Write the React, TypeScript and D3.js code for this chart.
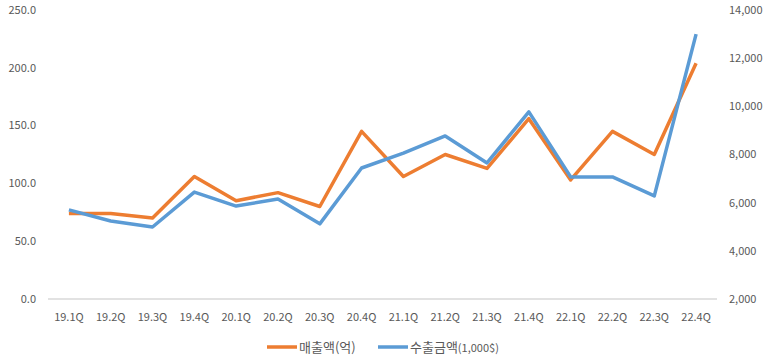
import React from 'react'
import * as d3 from "d3";

const quarters = ["19.1Q", "19.2Q", "19.3Q", "19.4Q", "20.1Q", "20.2Q", "20.3Q", "20.4Q",
  "21.1Q", "21.2Q", "21.3Q", "21.4Q", "22.1Q", "22.2Q", "22.3Q", "22.4Q"]

const sales = [74, 74, 70, 106, 85, 92, 80, 145, 106, 125, 113, 156, 103, 145, 125, 204]

const exports_ = [5700, 5240, 4990, 6440, 5860, 6150, 5120, 7440, 8060, 8770, 7650, 9770, 7070, 7070, 6280, 13000]

const leftTicks = [0, 50, 100, 150, 200, 250]
const rightTicks = [2000, 4000, 6000, 8000, 10000, 12000, 14000]

const salesName = "매출액(억)"
const exportName = "수출금액"
const exportUnit = "(1,000$)"

function drawChart(svgRef: React.RefObject<SVGSVGElement>) {
  const width = 773
  const height = 364
  const margin = { top: 10, right: 56, bottom: 65, left: 48 }

  const svg = d3.select(svgRef.current)
    .attr("width", width)
    .attr("height", height)
    .style("position", "absolute")
    .style("left", 0)
    .style("top", 0)
    .attr("font-family", "'Noto Sans CJK KR', 'Noto Sans', sans-serif")

  svg.selectAll("*").remove()

  const x = d3.scaleBand()
    .domain(quarters)
    .range([margin.left, width - margin.right])

  const yL = d3.scaleLinear().domain([0, 250]).range([height - margin.bottom, margin.top])
  const yR = d3.scaleLinear().domain([2000, 14000]).range([height - margin.bottom, margin.top])

  const grey = "#595959"

  svg.append("line")
    .attr("x1", margin.left)
    .attr("x2", width - margin.right)
    .attr("y1", yL(0))
    .attr("y2", yL(0))
    .attr("stroke", "#d9d9d9")
    .attr("stroke-width", 1.5)

  svg.append("g")
    .selectAll("text")
    .data(leftTicks)
    .join("text")
      .attr("x", 36)
      .attr("y", d => yL(d))
      .attr("dy", "0.35em")
      .attr("text-anchor", "end")
      .attr("font-size", 11)
      .attr("fill", grey)
      .text(d => d3.format(".1f")(d))

  svg.append("g")
    .selectAll("text")
    .data(rightTicks)
    .join("text")
      .attr("x", 729)
      .attr("y", d => yR(d))
      .attr("dy", "0.35em")
      .attr("font-size", 11)
      .attr("fill", grey)
      .text(d => d3.format(",")(d))

  svg.append("g")
    .selectAll("text")
    .data(quarters)
    .join("text")
      .attr("x", d => x(d)! + x.bandwidth() / 2)
      .attr("y", yL(0) + 18)
      .attr("dy", "0.35em")
      .attr("text-anchor", "middle")
      .attr("font-size", 11)
      .attr("fill", grey)
      .text(d => d)

  const cx = (i: number) => x(quarters[i])! + x.bandwidth() / 2

  const lineL = d3.line<number>().x((_, i) => cx(i)).y(d => yL(d))
  const lineR = d3.line<number>().x((_, i) => cx(i)).y(d => yR(d))

  svg.append("path")
    .attr("d", lineL(sales))
    .attr("fill", "none")
    .attr("stroke", "#ED7D31")
    .attr("stroke-width", 3.5)
    .attr("stroke-linejoin", "round")

  svg.append("path")
    .attr("d", lineR(exports_))
    .attr("fill", "none")
    .attr("stroke", "#5B9BD5")
    .attr("stroke-width", 3.5)
    .attr("stroke-linejoin", "round")

  const ly = 347
  const legend = svg.append("g")

  legend.append("line")
    .attr("x1", 267).attr("x2", 297).attr("y1", ly).attr("y2", ly)
    .attr("stroke", "#ED7D31").attr("stroke-width", 3.5)
  legend.append("text")
    .attr("x", 299).attr("y", ly).attr("dy", "0.35em")
    .attr("font-size", 13).attr("fill", grey)
    .text(salesName)

  legend.append("line")
    .attr("x1", 378).attr("x2", 408).attr("y1", ly).attr("y2", ly)
    .attr("stroke", "#5B9BD5").attr("stroke-width", 3.5)
  const t = legend.append("text")
    .attr("x", 410).attr("y", ly).attr("dy", "0.35em")
    .attr("font-size", 13).attr("fill", grey)
  t.append("tspan").text(exportName)
  t.append("tspan").attr("font-size", 11).text(exportUnit)

  return svg.node()
}

const App: React.FunctionComponent = () => {
  const svg = React.useRef<SVGSVGElement>(null)

  React.useEffect(() => {
    drawChart(svg)
  }, [svg])

  return (
    <div id="chart">
      <svg ref={svg} />
    </div>
  )
}

export default App
